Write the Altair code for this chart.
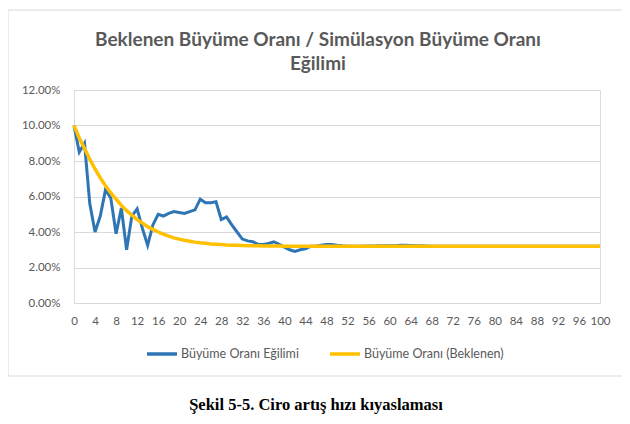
import altair as alt
import pandas as pd

title_lines = ["Beklenen Büyüme Oranı / Simülasyon Büyüme Oranı", "Eğilimi"]
caption = "Şekil 5-5. Ciro artış hızı kıyaslaması"
series_names = ["Büyüme Oranı Eğilimi", "Büyüme Oranı (Beklenen)"]
series_colors = ["#2E75B6", "#FFC000"]

x_values = list(range(0, 101))

# Simulated growth rate trend (%)
simulated = [
    10.0, 8.5, 9.0, 5.6, 4.0, 4.9, 6.4, 5.9, 3.9, 5.35,
    3.0, 4.9, 5.3, 4.2, 3.25, 4.4, 5.0, 4.9, 5.05, 5.15,
    5.1, 5.05, 5.15, 5.25, 5.85, 5.65, 5.65, 5.7, 4.7, 4.85,
    4.4, 4.0, 3.6, 3.5, 3.45, 3.3, 3.3, 3.35, 3.45, 3.3,
    3.15, 3.0, 2.9, 3.0, 3.05, 3.2, 3.2, 3.25, 3.3, 3.3,
    3.25, 3.22, 3.2, 3.2, 3.2, 3.2, 3.21, 3.21, 3.22, 3.22,
    3.22, 3.23, 3.25, 3.25, 3.24, 3.23, 3.22, 3.21, 3.2, 3.2,
    3.2, 3.2, 3.2, 3.2, 3.2, 3.2, 3.2, 3.2, 3.2, 3.2,
    3.2, 3.2, 3.2, 3.2, 3.2, 3.2, 3.2, 3.2, 3.2, 3.2,
    3.2, 3.2, 3.2, 3.2, 3.2, 3.2, 3.2, 3.2, 3.2, 3.2,
    3.2,
]

# Expected growth rate (%)
expected = [
    10.0, 9.3, 8.7, 8.1, 7.55, 7.05, 6.6, 6.2, 5.85, 5.5,
    5.2, 4.95, 4.7, 4.5, 4.3, 4.15, 4.0, 3.88, 3.77, 3.67,
    3.6, 3.53, 3.48, 3.43, 3.39, 3.36, 3.33, 3.31, 3.29, 3.27,
    3.26, 3.25, 3.24, 3.23, 3.22, 3.22, 3.21, 3.21, 3.21, 3.21,
    3.2, 3.2, 3.2, 3.2, 3.2, 3.2, 3.2, 3.2, 3.2, 3.2,
    3.2, 3.2, 3.2, 3.2, 3.2, 3.2, 3.2, 3.2, 3.2, 3.2,
    3.2, 3.2, 3.2, 3.2, 3.2, 3.2, 3.2, 3.2, 3.2, 3.2,
    3.2, 3.2, 3.2, 3.2, 3.2, 3.2, 3.2, 3.2, 3.2, 3.2,
    3.2, 3.2, 3.2, 3.2, 3.2, 3.2, 3.2, 3.2, 3.2, 3.2,
    3.2, 3.2, 3.2, 3.2, 3.2, 3.2, 3.2, 3.2, 3.2, 3.2,
    3.2,
]

x_ticks = list(range(0, 101, 4))
y_ticks = [0, 2, 4, 6, 8, 10, 12]

df_sim = pd.DataFrame({"x": x_values, "v": simulated, "s": series_names[0]})
df_exp = pd.DataFrame({"x": x_values, "v": expected, "s": series_names[1]})

FONT = "Lato"
GRAY = "#595959"

color = alt.Color(
    "s:N",
    scale=alt.Scale(domain=series_names, range=series_colors),
    legend=alt.Legend(
        title=None,
        orient="none",
        legendX=71,
        legendY=247,
        direction="horizontal",
        symbolType="stroke",
        symbolSize=900,
        symbolStrokeWidth=3.5,
        labelFont=FONT,
        labelFontSize=12.5,
        labelColor=GRAY,
        columnPadding=24,
        labelOffset=2,
    ),
)

x_enc = alt.X(
    "x:Q",
    scale=alt.Scale(domain=[0, 100], nice=False, zero=False),
    axis=alt.Axis(
        values=x_ticks,
        title=None,
        grid=False,
        ticks=False,
        domain=False,
        labelFont=FONT,
        labelFontSize=11.5,
        labelColor=GRAY,
        labelPadding=12,
        labelFlush=False,
    ),
)
y_enc = alt.Y(
    "v:Q",
    scale=alt.Scale(domain=[0, 12], nice=False),
    axis=alt.Axis(
        values=y_ticks,
        title=None,
        grid=True,
        gridColor="#d9d9d9",
        gridWidth=1,
        ticks=False,
        domain=False,
        labelFont=FONT,
        labelFontSize=11.5,
        labelColor=GRAY,
        labelPadding=14,
        labelExpr="format(datum.value, '.2f') + '%'",
    ),
)

frame = alt.Chart(pd.DataFrame({"a": [0]})).mark_rect(
    filled=False, stroke="#d9d9d9", strokeWidth=1
).encode(
    x=alt.value(-66), x2=alt.value(551), y=alt.value(-80), y2=alt.value(286)
)

sim_line = alt.Chart(df_sim).mark_line(strokeWidth=3).encode(
    x=x_enc, y=y_enc, color=color
)
exp_line = alt.Chart(df_exp).mark_line(strokeWidth=3.5).encode(
    x=x_enc, y=y_enc, color=color
)

title_text = alt.Chart(pd.DataFrame({"t": ["\n".join(title_lines)]})).mark_text(
    font=FONT, fontSize=19, fontWeight="bold", color=GRAY,
    align="center", baseline="middle", lineBreak="\n", lineHeight=24
).encode(x=alt.value(244), y=alt.value(-50), text="t:N")

cap = alt.Chart(pd.DataFrame({"t": [caption]})).mark_text(
    font="Liberation Serif", fontSize=16.5, fontWeight="bold", color="#000000",
    align="center", baseline="middle"
).encode(x=alt.value(242), y=alt.value(315), text="t:N")

chart = alt.layer(frame, sim_line, exp_line, title_text, cap).properties(
    width=526,
    height=213,
    autosize=alt.AutoSizeParams(type="none"),
    padding={"left": 66, "top": 82, "right": 22, "bottom": 113},
).configure_view(stroke=None).configure(background="white")

chart.save("out.html", embed_options={"renderer": "svg", "actions": False})
